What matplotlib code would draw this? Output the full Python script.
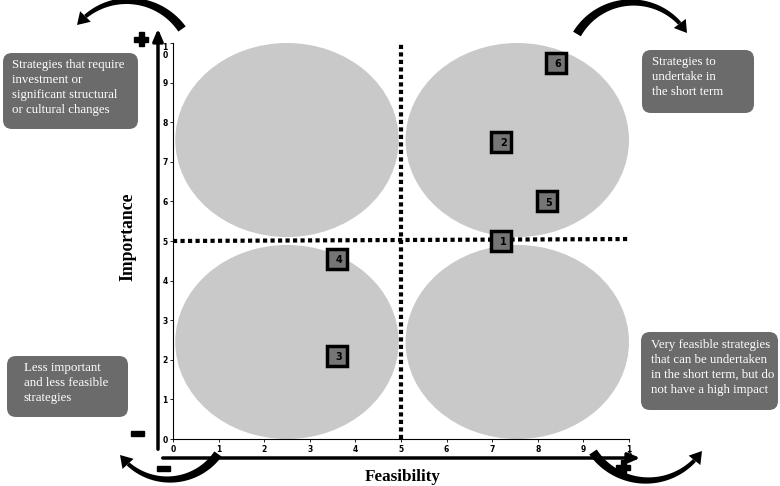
import numpy as np
import matplotlib.pyplot as plt
from matplotlib.patches import Ellipse, FancyBboxPatch, FancyArrowPatch, Rectangle, Polygon
from matplotlib.transforms import IdentityTransform

# strategies: feasibility (x), importance (y)
strategy_ids = ["1", "2", "3", "4", "5", "6"]
feasibility = [7.2, 7.2, 3.6, 3.6, 8.2, 8.4]
importance = [5.0, 7.5, 2.1, 4.55, 6.0, 9.5]

# quadrant backgrounds
quad_x = [2.5, 7.55, 2.5, 7.55]
quad_y = [7.55, 7.55, 2.45, 2.45]
quad_w = 4.9
quad_h = 4.9

tick_vals = [0, 1, 2, 3, 4, 5, 6, 7, 8, 9, 10]
tick_text = ["0", "1", "2", "3", "4", "5", "6", "7", "8", "9", "1\n0"]

W, H = 780, 486
fig = plt.figure(figsize=(W / 100, H / 100), dpi=100)
ax = fig.add_axes([173 / W, 1 - 439 / H, (629 - 173) / W, (439 - 43) / H])
ax.set_xlim(0, 10)
ax.set_ylim(0, 10)
ax.patch.set_alpha(0)

for cx, cy in zip(quad_x, quad_y):
    ax.add_patch(Ellipse((cx, cy), quad_w, quad_h, facecolor="#c9c9c9", edgecolor="none", zorder=1))

ax.plot([5, 5], [0, 10], color="black", lw=3, ls=(0, (1, 0.8)), zorder=2)
ax.plot([0, 10], [5, 5.05], color="black", lw=3, ls=(0, (1, 0.8)), zorder=2)

ax.plot(feasibility, importance, ls="none", marker="s", ms=15, mfc="#757575", mec="black", mew=2.5, zorder=3)
for sid, fx, iy in zip(strategy_ids, feasibility, importance):
    ax.text(fx + 0.04, iy - 0.03, sid, ha="center", va="center", fontsize=7, fontweight="bold", zorder=4)

for s in ["top", "right"]:
    ax.spines[s].set_visible(False)
for s in ["left", "bottom"]:
    ax.spines[s].set_linewidth(0.8)
ax.set_xticks(tick_vals)
ax.set_xticklabels(tick_text, va="top", linespacing=0.8)
ax.set_yticks(tick_vals)
ax.set_yticklabels(tick_text, linespacing=0.8)
ax.get_yticklabels()[-1].set_va("top")
ax.tick_params(labelsize=5.5, length=2.5, width=0.6, pad=1.5)
for lab in ax.get_xticklabels() + ax.get_yticklabels():
    lab.set_fontweight("bold")


def fy(y):
    return H - y


ident = IdentityTransform()

# main axis arrows
fig.add_artist(FancyArrowPatch((158, fy(452)), (158, fy(26)), transform=ident,
                               arrowstyle="-|>,head_length=7,head_width=3", lw=2.5, color="black"))
fig.add_artist(FancyArrowPatch((160, fy(458)), (643, fy(458)), transform=ident,
                               arrowstyle="-|>,head_length=7,head_width=3", lw=2.5, color="black"))


def curved_arrow(a, b, sag, w0=9, w1=4, head_len=12, head_w=15):
    # circular arc from a to b (image px), bulging by sag along left normal of a->b
    a = np.array([a[0], fy(a[1])], float)
    b = np.array([b[0], fy(b[1])], float)
    d = b - a
    c = np.hypot(*d)
    n = np.array([-d[1], d[0]]) / c
    mid = (a + b) / 2
    h = c / 2
    s = abs(sag)
    r = (h * h + s * s) / (2 * s)
    sg = np.sign(sag)
    center = mid + n * sg * (s - r)
    peak = mid + n * sag
    ta = np.arctan2(*(a - center)[::-1])
    tb = np.arctan2(*(b - center)[::-1])
    tp = np.arctan2(*(peak - center)[::-1])
    ccw = (tb - ta) % (2 * np.pi)
    if (tp - ta) % (2 * np.pi) < ccw:
        sweep = ccw
    else:
        sweep = ccw - 2 * np.pi
    t_end = ta + sweep - np.sign(sweep) * head_len / r
    ts = np.linspace(ta, t_end, 60)
    ws = np.linspace(w0, w1, 60)
    outer = np.column_stack([center[0] + (r + ws / 2) * np.cos(ts), center[1] + (r + ws / 2) * np.sin(ts)])
    inner = np.column_stack([center[0] + (r - ws / 2) * np.cos(ts), center[1] + (r - ws / 2) * np.sin(ts)])
    fig.add_artist(Polygon(np.vstack([outer, inner[::-1]]), closed=True, transform=ident,
                           facecolor="black", edgecolor="none"))
    base = center + r * np.array([np.cos(t_end), np.sin(t_end)])
    u = (b - base) / np.hypot(*(b - base))
    p = np.array([-u[1], u[0]])
    head = np.array([b, base + p * head_w / 2, base - p * head_w / 2])
    fig.add_artist(Polygon(head, closed=True, transform=ident, facecolor="black", edgecolor="none"))


curved_arrow((182, 29), (77, 25), -26)
curved_arrow((577, 34), (687, 33), 31)
curved_arrow((218, 454), (120, 455), 25)
curved_arrow((593, 452), (702, 451), -29)


def plus(x, y, s=14, t=5):
    fig.add_artist(Rectangle((x - s / 2, fy(y) - t / 2), s, t, transform=ident, color="black"))
    fig.add_artist(Rectangle((x - t / 2, fy(y) - s / 2), t, s, transform=ident, color="black"))


def minus(x, y, s=13, t=5):
    fig.add_artist(Rectangle((x - s / 2, fy(y) - t / 2), s, t, transform=ident, color="black"))


plus(141, 39)
plus(623, 467)
minus(137, 433)
minus(163, 468)

# quadrant description boxes
boxes = [((3, 53, 135, 76), (12, 59), "Strategies that require\ninvestment or\nsignificant structural\nor cultural changes"),
         ((642, 50, 112, 63), (652, 56), "Strategies to\nundertake in\nthe short term"),
         ((7, 356, 121, 61), (24, 362), "Less important\nand less feasible\nstrategies"),
         ((641, 332, 137, 78), (651, 339), "Very feasible strategies\nthat can be undertaken\nin the short term, but do\nnot have a high impact")]
for (bx, by, bw, bh), (tx, ty), txt in boxes:
    fig.add_artist(FancyBboxPatch((bx, fy(by + bh)), bw, bh, transform=ident,
                                  boxstyle="round,pad=0,rounding_size=9",
                                  facecolor="#6b6b6b", edgecolor="none"))
    fig.text(tx / W, 1 - ty / H, txt, ha="left", va="top", color="white",
             fontsize=9.3, family="Liberation Serif", linespacing=1.32)

fig.text(128 / W, 1 - 237 / H, "Importance", rotation=90, ha="center", va="center",
         fontsize=12.7, fontweight="bold", family="Liberation Serif")
fig.text(403 / W, 1 - 477 / H, "Feasibility", ha="center", va="center",
         fontsize=12.3, fontweight="bold", family="Liberation Serif")

fig.savefig("out.png", dpi=100)
